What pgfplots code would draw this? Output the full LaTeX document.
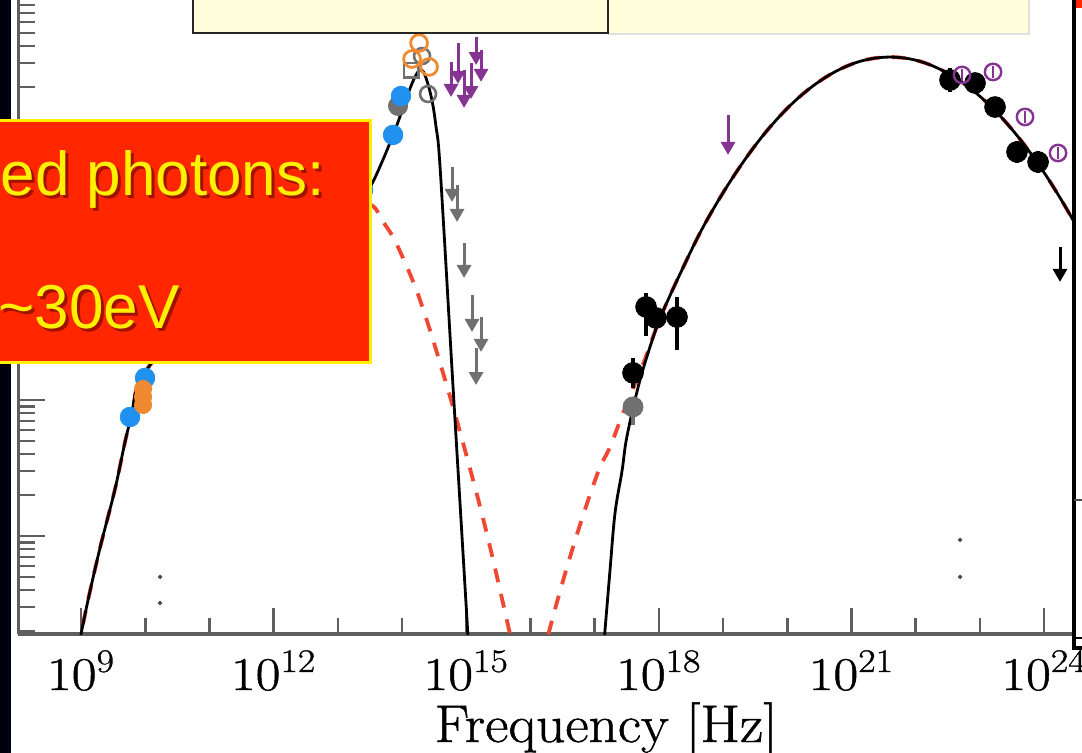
\documentclass[border=0pt]{standalone}
\usepackage{pgfplots}
\pgfplotsset{compat=1.18}
\usepackage{graphicx}
\usepackage{fontspec}
\usetikzlibrary{arrows.meta}
\newfontfamily\slidefont{Liberation Sans}
\newfontfamily\plotfont{Latin Modern Roman}[FakeBold=0.9]
\newcommand\tlab[1]{\scalebox{1.15}[1]{10\textsuperscript{#1}}}

\definecolor{axgray}{RGB}{95,95,95}
\definecolor{ptblue}{RGB}{33,145,240}
\definecolor{ptorange}{RGB}{240,138,50}
\definecolor{ptgray}{RGB}{112,112,112}
\definecolor{ptpurple}{RGB}{134,52,146}
\definecolor{modred}{RGB}{240,72,52}
\definecolor{boxred}{RGB}{255,38,0}
\definecolor{boxyellow}{RGB}{255,240,0}
\definecolor{note}{RGB}{255,253,218}

\begin{document}
\begin{tikzpicture}
\useasboundingbox (0,0) rectangle (541pt,376pt);
\clip (0,0) rectangle (541pt,376pt);
\fill[white] (0,0) rectangle (541pt,376pt);
\begin{axis}[
  scale only axis, width=527.75pt, height=317pt,
  at={(9.25pt,59pt)}, anchor=south west,
  xmin=8.026, xmax=24.467, ymin=-14.721, ymax=-10.059,
  axis x line*=bottom, axis y line*=left,
  axis line style={line width=1.6pt, axgray},
  tick align=inside,
  major tick length=13pt, minor tick length=8pt,
  tick style={line width=1.3pt, axgray},
  xtick={9,12,15,18,21,24},
  xticklabels={\tlab{9},\tlab{12},\tlab{15},\tlab{18},\tlab{21},\tlab{24}},
  minor xtick={10,11,13,14,16,17,19,20,22,23},
  ytick={-15,-14,-13,-12,-11,-10},
  yticklabels={},
  minor ytick={-14.699,-14.523,-14.398,-14.301,-14.222,-14.155,-14.097,-14.046,
    -13.699,-13.523,-13.398,-13.301,-13.222,-13.155,-13.097,-13.046,
    -12.699,-12.523,-12.398,-12.301,-12.222,-12.155,-12.097,-12.046,
    -11.699,-11.523,-11.398,-11.301,-11.222,-11.155,-11.097,-11.046,
    -10.699,-10.523,-10.398,-10.301,-10.222,-10.155,-10.097},
  x tick label style={font=\plotfont\fontsize{23.5}{25}\selectfont, anchor=base, yshift=-28pt},
]

% model components (dashed, under the totals)
\addplot[modred, line width=1.9pt, dash pattern=on 7pt off 6pt, smooth, tension=0.6] table {
x y
8.953 -14.838
9.093 -14.507
9.296 -14.088
9.530 -13.654
9.763 -13.160
10.075 -12.743
11.632 -11.985
12.489 -11.721
13.034 -11.603
13.346 -11.566
13.548 -11.574
13.720 -11.699
13.922 -11.860
14.280 -12.265
14.717 -12.926
15.106 -13.588
15.371 -14.081
15.682 -14.721
15.776 -14.912
};
\addplot[modred, line width=1.9pt, dash pattern=on 7pt off 6pt, smooth, tension=0.6] table {
x y
16.212 -14.912
16.305 -14.676
16.664 -14.081
17.037 -13.551
17.240 -13.346
17.442 -13.096
17.629 -12.882
17.785 -12.699
17.972 -12.456
18.143 -12.265
18.330 -12.074
18.642 -11.771
18.953 -11.513
19.265 -11.284
19.576 -11.083
19.888 -10.911
20.199 -10.768
20.511 -10.654
20.822 -10.568
21.134 -10.510
21.445 -10.482
21.757 -10.482
22.069 -10.510
22.380 -10.568
22.692 -10.654
23.003 -10.768
23.315 -10.911
23.626 -11.083
23.938 -11.284
24.249 -11.513
24.561 -11.771
24.872 -12.059
};

% total model
\addplot[black, line width=1.4pt, smooth, tension=0.6] table {
x y
8.953 -14.838
9.093 -14.507
9.296 -14.088
9.530 -13.654
9.763 -13.160
10.075 -12.743
11.632 -11.956
12.411 -11.706
13.034 -11.566
13.346 -11.507
13.502 -11.434
13.688 -11.250
13.891 -11.015
14.031 -10.831
14.140 -10.691
14.218 -10.610
14.280 -10.574
14.343 -10.596
14.421 -10.706
14.483 -10.838
14.530 -10.993
14.576 -11.176
14.654 -11.765
14.779 -12.779
14.903 -13.757
15.012 -14.618
15.028 -14.765
};
\addplot[black, line width=1.4pt, smooth, tension=0.6] table {
x y
17.146 -14.779
17.162 -14.691
17.240 -14.250
17.318 -13.831
17.427 -13.522
17.505 -13.265
17.707 -12.853
17.972 -12.456
18.143 -12.265
18.330 -12.074
18.642 -11.771
18.953 -11.513
19.265 -11.284
19.576 -11.083
19.888 -10.911
20.199 -10.768
20.511 -10.654
20.822 -10.568
21.134 -10.510
21.445 -10.482
21.757 -10.482
22.069 -10.510
22.380 -10.568
22.692 -10.654
23.003 -10.768
23.315 -10.911
23.626 -11.083
23.938 -11.284
24.249 -11.513
24.561 -11.771
24.872 -12.059
};

% upper limits
\addplot[ptgray, line width=1.5pt, -{Triangle[width=7pt,length=6.5pt]}, quiver={u=0,v=\thisrow{v}}] table {
x y v
14.779 -11.287 -0.257
14.857 -11.419 -0.272
14.966 -11.846 -0.257
15.090 -12.228 -0.272
15.231 -12.390 -0.257
15.153 -12.618 -0.272
};
\addplot[ptpurple, line width=1.5pt, -{Triangle[width=7pt,length=6.5pt]}, quiver={u=0,v=\thisrow{v}}] table {
x y v
14.763 -10.515 -0.257
14.872 -10.375 -0.301
14.966 -10.574 -0.279
15.075 -10.522 -0.265
15.153 -10.331 -0.206
15.231 -10.426 -0.235
19.078 -10.904 -0.294
};
\addplot[black, line width=1.5pt, -{Triangle[width=7pt,length=6.5pt]}, quiver={u=0,v=\thisrow{v}}] table {
x y v
24.249 -11.875 -0.257
};

% radio / IR / optical points
\addplot[only marks, mark=*, mark size=4.8pt, ptgray] table {
x y
13.938 -10.838
};
\addplot[only marks, mark=*, mark size=4.9pt, ptblue] table {
x y
9.763 -13.125
9.997 -12.838
13.393 -11.456
13.860 -11.051
13.984 -10.765
};
\addplot[only marks, mark=*, mark size=4.3pt, ptorange] table {
x y
9.966 -12.919
9.966 -12.978
9.966 -13.037
};
\addplot[only marks, mark=o, mark size=4pt, ptgray, mark options={line width=1.3pt}] table {
x y
14.405 -10.750
14.312 -10.471
};
\addplot[only marks, mark=square, mark size=3.6pt, ptgray, mark options={line width=1.3pt}] table {
x y
14.140 -10.574
};
\addplot[only marks, mark=o, mark size=4.2pt, ptorange, mark options={line width=1.4pt}] table {
x y
14.265 -10.375
14.156 -10.493
14.421 -10.551
};

% X-ray and gamma-ray points
\addplot[only marks, mark=*, mark size=5pt, ptgray,
  error bars/.cd, y dir=both, y explicit, error mark=none,
  error bar style={line width=1.6pt}]
  table[x=x, y=y, y error plus=ep, y error minus=em] {
x y ep em
17.598 -13.051 0.03 0.13
};
\addplot[only marks, mark=*, mark size=5.2pt, black,
  error bars/.cd, y dir=both, y explicit, error mark=none,
  error bar style={line width=1.6pt}]
  table[x=x, y=y, y error plus=ep, y error minus=em] {
x y ep em
17.598 -12.801 0.11 0.11
17.801 -12.316 0.10 0.21
17.956 -12.397 0.05 0.05
18.283 -12.390 0.15 0.24
22.536 -10.647 0.09 0.09
22.925 -10.669 0.07 0.07
23.237 -10.846 0.07 0.07
23.579 -11.176 0.08 0.08
23.907 -11.250 0.08 0.08
};
\addplot[only marks, mark=o, mark size=4.1pt, ptpurple, mark options={line width=1.2pt},
  error bars/.cd, y dir=both, y explicit, error mark=none,
  error bar style={line width=1.1pt}]
  table[x=x, y=y, y error=e] {
x y e
22.723 -10.610 0.045
23.206 -10.588 0.045
23.704 -10.919 0.045
24.218 -11.184 0.045
};
\addplot[only marks, mark=*, mark size=0.9pt, black!70] table {
x y
10.231 -14.301
10.231 -14.493
22.692 -14.301
22.692 -14.029
};
\end{axis}

\begin{scope}[x=0.5pt, y=-0.5pt, shift={(0pt,376pt)}]
  % starry backdrop strip
  \fill[black!94!blue] (-5,-5) rectangle (11,760);
  % text box of the slide
  \fill[boxred] (-10,120) rectangle (370,362);
  \draw[boxyellow, line width=1.5pt] (-10,120) rectangle (370,362);
  \node[anchor=base east, inner sep=0, font=\slidefont\fontsize{31}{31}\selectfont,
        text=black!75!red, opacity=0.5] at (328,198) {ed photons:};
  \node[anchor=base east, inner sep=0, font=\slidefont\fontsize{31}{31}\selectfont,
        text=boxyellow] at (325,195) {ed photons:};
  \node[anchor=base east, inner sep=0, font=\slidefont\fontsize{31}{31}\selectfont,
        text=black!75!red, opacity=0.5] at (183,331) {\textasciitilde30eV};
  \node[anchor=base east, inner sep=0, font=\slidefont\fontsize{31}{31}\selectfont,
        text=boxyellow] at (180,328) {\textasciitilde30eV};
  % note boxes along the top
  \fill[note] (608,-10) rectangle (1029,34);
  \draw[black!12, line width=0.6pt] (608,34) -- (1029,34) -- (1029,-10);
  \filldraw[fill=note, draw=black!85, line width=0.7pt] (193,-10) rectangle (608,33);
  % neighbouring panel on the right
  \fill[white] (1075,-10) rectangle (1095,648);
  \draw[black, line width=2pt] (1074,-10) -- (1074,648) -- (1090,648);
  \draw[black, line width=0.8pt] (1074,638) -- (1090,638);
  \draw[black!70, line width=0.8pt] (1074,500) -- (1090,500);
  \fill[boxred] (1076,-5) rectangle (1090,8);
  % axis title
  \node[anchor=base east, inner sep=0, font=\plotfont\fontsize{26.5}{28}\selectfont]
    at (778,742) {\scalebox{1.08}[1]{Frequency [Hz]}};
\end{scope}
\end{tikzpicture}
\end{document}
